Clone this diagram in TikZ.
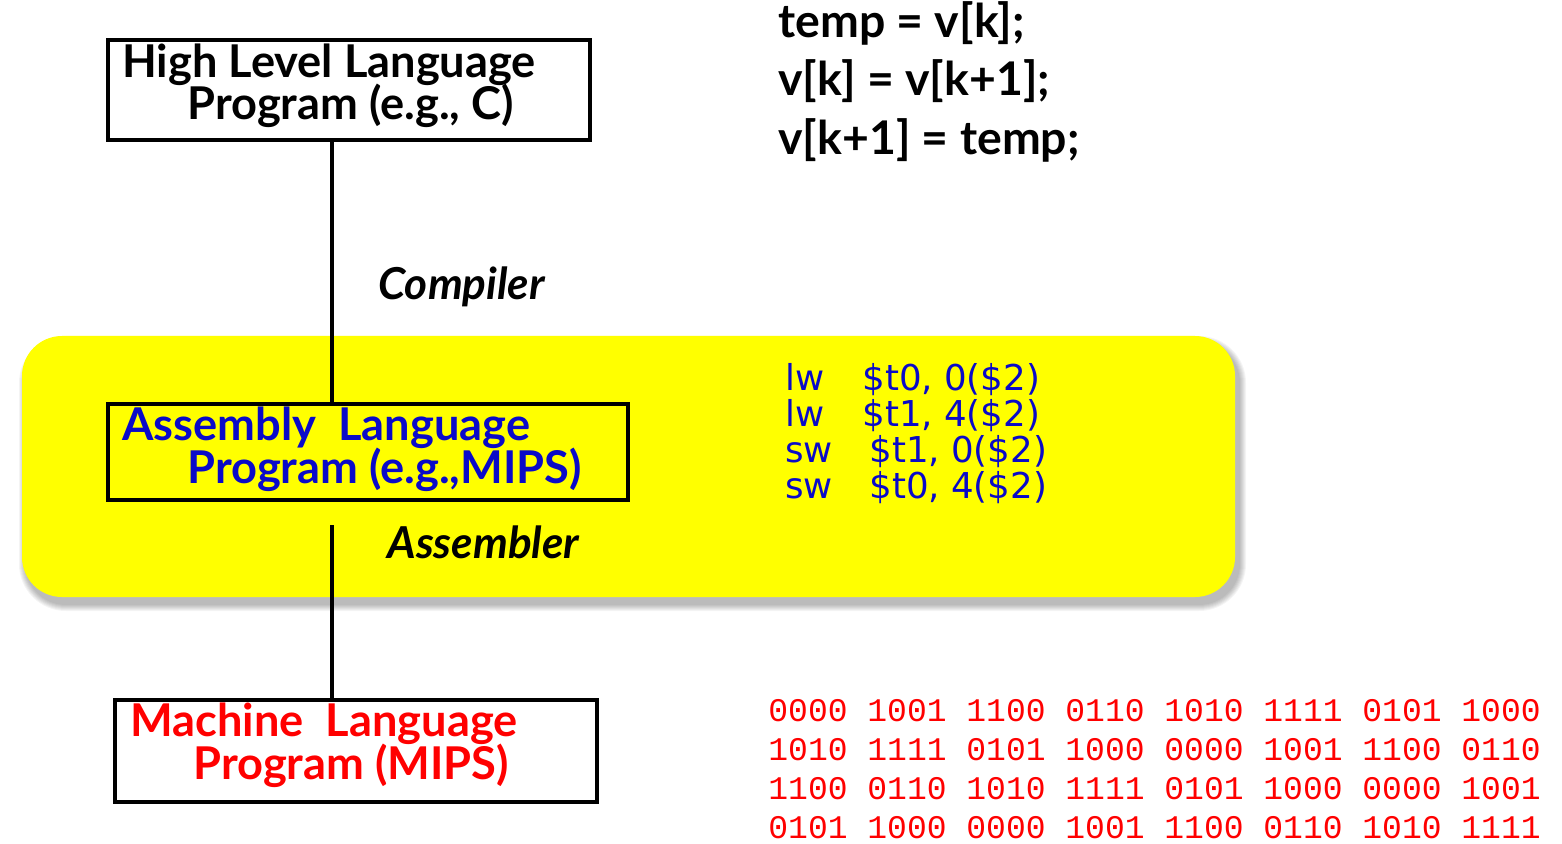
\documentclass[tikz,border=0pt]{standalone}
\usepackage{fontspec}
\setmainfont{Lato}
\newfontfamily\codefont{DejaVu Sans}
\newfontfamily\bitsfont{Liberation Mono}
\usetikzlibrary{fit}
\definecolor{asmblue}{RGB}{10,10,200}
\definecolor{bandyellow}{RGB}{255,255,0}
\tikzset{
  levelbox/.style={draw=black, line width=1.6pt, inner sep=0pt},
  title/.style={anchor=base west, inner sep=0pt, font=\fontsize{22.6}{26}\selectfont\bfseries},
  tool/.style={anchor=base west, inner sep=0pt, font=\fontsize{22}{26}\selectfont\bfseries\itshape},
  srcline/.style={anchor=base west, inner sep=0pt, font=\fontsize{23.2}{27}\selectfont\bfseries},
  asmline/.style={anchor=base west, inner sep=0pt, text=asmblue, font=\codefont\fontsize{17.8}{20}\selectfont},
  bits/.style={anchor=base west, inner sep=0pt, text=red, font=\bitsfont\fontsize{16.5}{19}\selectfont},
  spine/.style={line width=1.6pt}
}
\begin{document}
\begin{tikzpicture}[x=0.5pt,y=-0.5pt]
\useasboundingbox (0,0) rectangle (1562,844);

% soft shadow under the band, built from stacked translucent layers
\foreach \s in {1,...,7} {
  \fill[black, opacity=0.045, rounded corners={20pt+0.5pt*\s}]
    ({22+4-\s},{336+7-\s}) rectangle ({1235+4+\s},{597+7+\s});
}

% translation band holding the assembly level
\node[fit={(22,336) (1235,597)}, inner sep=0pt, fill=bandyellow, rounded corners=20pt] (band) {};

% three program levels
\node[levelbox, fit={(108,40) (590,140)}] (hll) {};
\node[title] (hll1) at (122,78) {High Level Language};
\node[title] (hll2) at (187,120) {Program (e.g., C)};

\node[levelbox, fit={(108,404) (628,500)}] (asm) {};
\node[title, text=asmblue] (asm1) at (122,440) {Assembly\ \ Language};
\node[title, text=asmblue] (asm2) at (187,483) {Program (e.g.,MIPS)};

\node[levelbox, fit={(115,700) (597,802)}] (mach) {};
\node[title, text=red] (mach1) at (130,736) {Machine\ \ Language};
\node[title, text=red] (mach2) at (193,779) {Program (MIPS)};

% connectors between levels
\coordinate (axis) at (332,0);
\coordinate (asmgap) at (332,525);
\draw[spine] (hll.south -| axis) -- (asm.north -| axis);
\draw[spine] (asmgap) -- (mach.north -| axis);

\node[tool] (compiler) at (378,300) {Compiler};
\node[tool] (assembler) at (387,558) {Assembler};

% C source
\node[srcline] (c1) at (778,38) {temp = v[k];};
\node[srcline] (c2) at (778,96) {v[k] = v[k+1];};
\node[srcline] (c3) at (778,155) {v[k+1] = temp;};

% MIPS assembly
\node[asmline] (op1) at (785,390) {lw};
\node[asmline] (arg1) at (862,390) {\$t0, 0(\$2)};
\node[asmline] (op2) at (785,426) {lw};
\node[asmline] (arg2) at (862,426) {\$t1, 4(\$2)};
\node[asmline] (op3) at (785,462) {sw};
\node[asmline] (arg3) at (869,462) {\$t1, 0(\$2)};
\node[asmline] (op4) at (785,498) {sw};
\node[asmline] (arg4) at (869,498) {\$t0, 4(\$2)};

% machine code
\node[bits] (m1) at (768,721) {0000 1001 1100 0110 1010 1111 0101 1000};
\node[bits] (m2) at (768,760) {1010 1111 0101 1000 0000 1001 1100 0110};
\node[bits] (m3) at (768,799) {1100 0110 1010 1111 0101 1000 0000 1001};
\node[bits] (m4) at (768,838) {0101 1000 0000 1001 1100 0110 1010 1111};
\end{tikzpicture}
\end{document}
